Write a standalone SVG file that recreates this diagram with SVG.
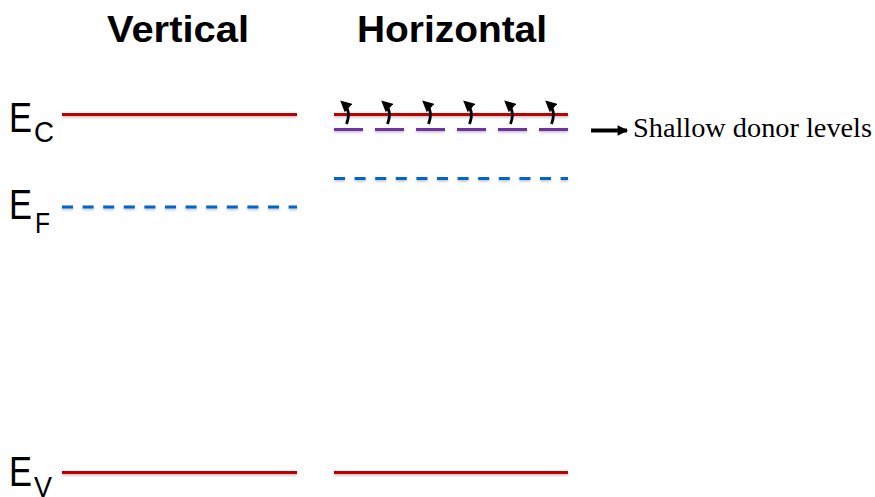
<svg xmlns="http://www.w3.org/2000/svg" width="875" height="497" viewBox="0 0 875 497">
  <defs>
    <filter id="soft" filterUnits="userSpaceOnUse" x="0" y="0" width="875" height="497">
      <feDropShadow dx="0" dy="1.5" stdDeviation="1" flood-color="#000" flood-opacity="0.25"/>
    </filter>
    <marker id="head" viewBox="0 0 10 10" refX="6" refY="5" markerWidth="4.4" markerHeight="4" orient="auto" markerUnits="strokeWidth">
      <path d="M0,0 L10,5 L0,10 Z" fill="#000"/>
    </marker>
    <marker id="headR" viewBox="0 0 10 10" refX="9" refY="5" markerWidth="3" markerHeight="2.6" orient="auto" markerUnits="strokeWidth">
      <path d="M0,0 L10,5 L0,10 Z" fill="#000"/>
    </marker>
  </defs>
  <style>
    .band { stroke: #C00000; stroke-width: 3; fill: none; }
    .fermi { stroke: #0066CC; stroke-width: 3; stroke-dasharray: 11 9.6; fill: none; }
    .donor { stroke: #7030A0; stroke-width: 3; fill: none; }
    .hop { stroke: #000; stroke-width: 2.8; fill: none; }
    .lab { font-family: "Liberation Sans", Arial, sans-serif; fill: #000; }
    .big { font-size: 43px; }
    .sub { font-size: 29px; }
    .title { font-family: "Liberation Sans", Arial, sans-serif; font-weight: bold; font-size: 37px; fill: #000; }
    .note { font-family: "Liberation Serif", "Times New Roman", serif; font-size: 28px; fill: #000; }
  </style>

  <rect width="875" height="497" fill="#fff"/>

  <!-- column titles -->
  <g id="titles">
    <text class="title" x="107" y="42" textLength="142" lengthAdjust="spacingAndGlyphs">Vertical</text>
    <text class="title" x="357" y="42" textLength="190" lengthAdjust="spacingAndGlyphs">Horizontal</text>
  </g>

  <!-- energy labels -->
  <g id="label-ec">
    <text class="lab big" x="9" y="132" textLength="23" lengthAdjust="spacingAndGlyphs">E</text>
    <text class="lab sub" x="34" y="142" textLength="20" lengthAdjust="spacingAndGlyphs">C</text>
  </g>
  <g id="label-ef">
    <text class="lab big" x="9" y="219" textLength="23" lengthAdjust="spacingAndGlyphs">E</text>
    <text class="lab sub" x="35" y="233" textLength="15" lengthAdjust="spacingAndGlyphs">F</text>
  </g>
  <g id="label-ev">
    <text class="lab big" x="9" y="486" textLength="23" lengthAdjust="spacingAndGlyphs">E</text>
    <text class="lab sub" x="34" y="497" textLength="18" lengthAdjust="spacingAndGlyphs">V</text>
  </g>

  <!-- vertical column levels -->
  <g id="vertical-levels" filter="url(#soft)">
    <line class="band" x1="62" y1="114.5" x2="297" y2="114.5"/>
    <line class="fermi" x1="62" y1="207" x2="297" y2="207"/>
    <line class="band" x1="62" y1="472.5" x2="297" y2="472.5"/>
  </g>

  <!-- horizontal column levels -->
  <g id="horizontal-levels" filter="url(#soft)">
    <line class="band" x1="334" y1="114.5" x2="568" y2="114.5"/>
    <line class="fermi" x1="334" y1="178.5" x2="568" y2="178.5"/>
    <line class="band" x1="334" y1="472.5" x2="568" y2="472.5"/>
  </g>

  <!-- shallow donor levels -->
  <g id="donor-levels" filter="url(#soft)">
    <line class="donor" x1="334" y1="129.5" x2="363" y2="129.5"/>
    <line class="donor" x1="375" y1="129.5" x2="404" y2="129.5"/>
    <line class="donor" x1="416" y1="129.5" x2="445" y2="129.5"/>
    <line class="donor" x1="457" y1="129.5" x2="486" y2="129.5"/>
    <line class="donor" x1="498" y1="129.5" x2="527" y2="129.5"/>
    <line class="donor" x1="539" y1="129.5" x2="568" y2="129.5"/>
  </g>

  <!-- electrons excited from donor levels into the conduction band -->
  <g id="connectors">
    <path class="hop" d="M346.5,124 C349.5,116 349,108.5 343.5,103.5" marker-end="url(#head)"/>
    <path class="hop" d="M387.5,124 C390.5,116 390,108.5 384.5,103.5" marker-end="url(#head)"/>
    <path class="hop" d="M428.5,124 C431.5,116 431,108.5 425.5,103.5" marker-end="url(#head)"/>
    <path class="hop" d="M469.5,124 C472.5,116 472,108.5 466.5,103.5" marker-end="url(#head)"/>
    <path class="hop" d="M510.5,124 C513.5,116 513,108.5 507.5,103.5" marker-end="url(#head)"/>
    <path class="hop" d="M551.5,124 C554.5,116 554,108.5 548.5,103.5" marker-end="url(#head)"/>
    <line x1="591" y1="130.5" x2="627" y2="130.5" stroke="#000" stroke-width="4" marker-end="url(#headR)"/>
  </g>

  <g id="note">
    <text class="note" x="633" y="137" textLength="239" lengthAdjust="spacingAndGlyphs">Shallow donor levels</text>
  </g>
</svg>
